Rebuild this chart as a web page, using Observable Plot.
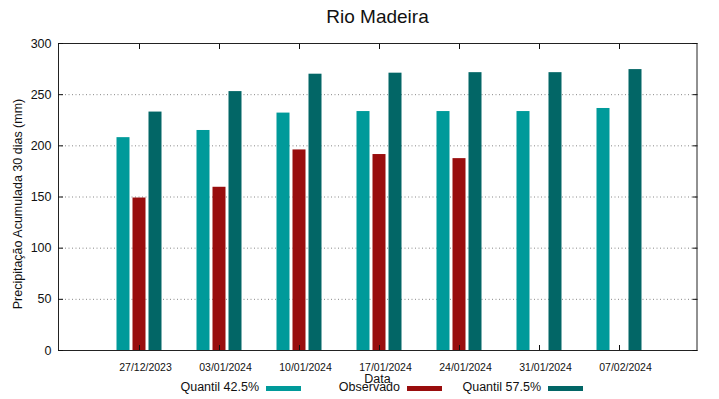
<!DOCTYPE html>
<html><head><meta charset="utf-8">
<script src="https://cdn.jsdelivr.net/npm/d3@7"></script>
<script src="https://cdn.jsdelivr.net/npm/@observablehq/plot@0.6"></script>
<style>
body{margin:0;background:#fff;font-family:"Liberation Sans",Arial,sans-serif;}
#wrap{position:relative;width:719px;height:399px;overflow:hidden;}
#wrap svg{position:absolute;left:0;top:0;}
.t{position:absolute;white-space:nowrap;color:#111;font-size:12.5px;line-height:1;}
.c{transform:translate(-50%,-50%);}
.sw{position:absolute;height:5px;}
</style></head><body>
<div id="wrap"></div>
<script>
const dates = ["27/12/2023","03/01/2024","10/01/2024","17/01/2024","24/01/2024","31/01/2024","07/02/2024"];
const q425 = [208, 215, 232, 233.5, 233.5, 233.5, 236.5];
const observado = [149, 159.5, 196, 191.5, 187.5, null, null];
const q575 = [233, 253, 270, 271, 271.5, 271.5, 274.5];
const seriesNames = ["Quantil 42.5%", "Observado", "Quantil 57.5%"];
const seriesColors = ["#009a9a", "#990d0d", "#026666"];
const yTicks = [0, 50, 100, 150, 200, 250, 300];
const gridTicks = [50, 100, 150, 200, 250];
const titleText = "Rio Madeira";
const xLabel = "Data";
const yLabel = "Precipitação Acumulada 30 dias (mm)";

const rows = vals => dates.map((d, i) => ({date: d, value: vals[i]})).filter(r => r.value != null);
const seriesVals = [q425, observado, q575];
const offsets = [-16, 0, 16];

const plot = Plot.plot({
  width: 719, height: 399,
  marginTop: 43, marginBottom: 49, marginLeft: 58, marginRight: 22.5,
  style: {fontFamily: '"Liberation Sans", Arial, sans-serif', fontSize: "12.5px", color: "#111", background: "transparent"},
  x: {type: "band", domain: dates, paddingInner: 0.5, paddingOuter: 0.7375, align: 0.513},
  y: {domain: [0, 300]},
  marks: [
    Plot.gridY(gridTicks, {stroke: "#888", strokeOpacity: 1, strokeDasharray: "1,2.5"}),
    ...seriesVals.map((vals, i) => Plot.barY(rows(vals), {
      x: "date", y: "value", fill: seriesColors[i], dx: offsets[i], insetLeft: 13.5, insetRight: 13.5
    })),
    Plot.frame({stroke: "#222"}),
    Plot.axisY(yTicks, {anchor: "left", tickSize: 0, tickPadding: 7, label: null, fontSize: 12.5}),
    Plot.axisY(yTicks, {anchor: "left", text: null, tickSize: -5, label: null}),
    Plot.axisY(yTicks, {anchor: "right", text: null, tickSize: -5, label: null}),
    Plot.axisX(dates, {anchor: "bottom", tickSize: 0, tickPadding: 13, dx: 6, label: null, fontSize: 10.5}),
    Plot.axisX(dates, {anchor: "bottom", text: null, tickSize: -5, label: null}),
    Plot.axisX(dates, {anchor: "top", text: null, tickSize: -5, label: null})
  ]
});
const wrap = document.getElementById("wrap");
wrap.appendChild(plot);

function addText(txt, css, cls) {
  const d = document.createElement("div");
  d.className = "t " + (cls || "");
  d.textContent = txt;
  Object.assign(d.style, css);
  wrap.appendChild(d);
  return d;
}
addText(titleText, {left: "377.5px", top: "16px", fontSize: "19px"}, "c");
addText(xLabel, {left: "377.5px", top: "379px"}, "c");
addText(yLabel, {left: "17.5px", top: "204px", transform: "translate(-50%,-50%) rotate(-90deg)"});

const legendTextRight = [259, 400, 541];
const legendSwatchX = [266, 407, 548];
seriesNames.forEach((name, i) => {
  addText(name, {right: (719 - legendTextRight[i]) + "px", top: (387 - 6.5) + "px"});
  const s = document.createElement("div");
  s.className = "sw";
  Object.assign(s.style, {left: legendSwatchX[i] + "px", top: "385.5px", width: "35px", background: seriesColors[i]});
  wrap.appendChild(s);
});
</script>
</body></html>
